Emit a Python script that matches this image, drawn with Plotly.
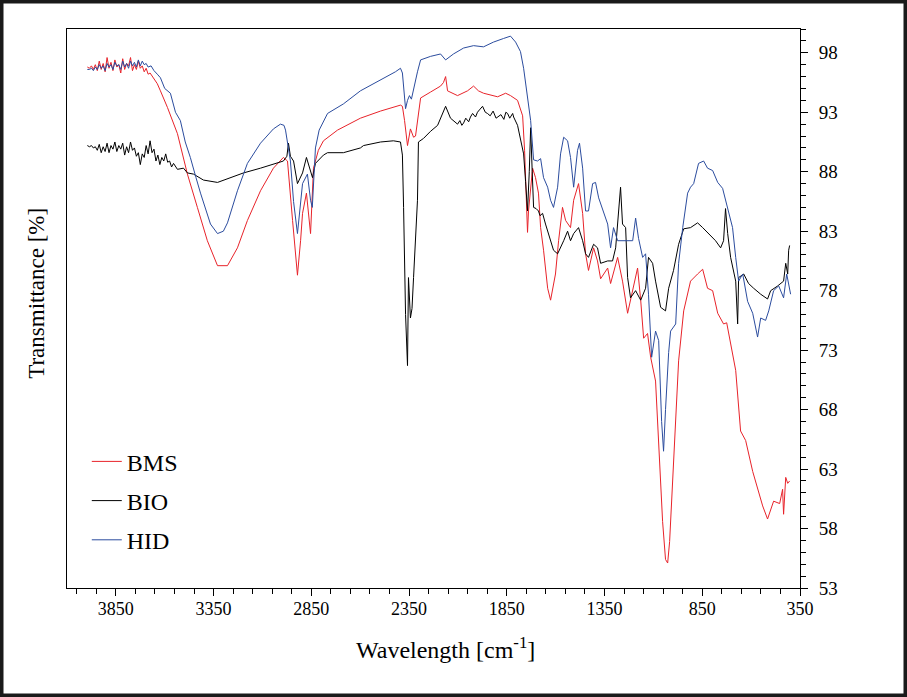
import plotly.graph_objects as go

# ---------------- data ----------------
bms_wn = [3996, 3985, 3975, 3965, 3955, 3945, 3935, 3925, 3915, 3905, 3895, 3885, 3875, 3865, 3855,
          3845, 3835, 3825, 3815, 3805, 3795, 3785, 3775, 3765, 3755, 3745, 3735, 3725, 3715, 3705,
          3695, 3685, 3675, 3660, 3638, 3622, 3586, 3535, 3484, 3433, 3382, 3330, 3279, 3228, 3177,
          3110, 3044, 2993, 2972, 2946, 2921, 2905, 2895, 2875, 2865, 2854, 2839, 2814, 2788, 2716,
          2599, 2496, 2394, 2384, 2373, 2358, 2343, 2327, 2317, 2291, 2240, 2189, 2174, 2163, 2153,
          2102, 2051, 2020, 1995, 1969, 1897, 1856, 1831, 1795, 1769, 1759, 1744, 1739, 1718, 1703,
          1688, 1677, 1662, 1641, 1626, 1601, 1585, 1565, 1549, 1524, 1508, 1483, 1462, 1447, 1432,
          1406, 1386, 1370, 1334, 1319, 1283, 1258, 1232, 1206, 1181, 1165, 1150, 1130, 1114, 1089,
          1073, 1053, 1038, 1027, 1017, 1002, 986, 971, 945, 925, 910, 874, 848, 823, 797,
          771, 741, 725, 705, 679, 654, 628, 592, 562, 541, 516, 485, 454, 439, 434,
          423, 413, 403]
bms_t = [96.8, 96.7, 96.9, 96.6, 97.0, 96.5, 97.3, 96.6, 97.1, 96.4, 97.6, 96.7, 97.2, 96.5, 97.4,
         96.8, 97.0, 96.3, 97.5, 96.6, 97.1, 96.9, 97.6, 96.5, 97.0, 96.6, 97.3, 96.7, 96.9, 96.4,
         96.7, 96.2, 96.3, 95.9, 95.4, 94.8, 93.4, 91.2, 87.8, 85.0, 82.2, 80.1, 80.1, 81.6, 83.9,
         86.4, 88.3, 89.2, 88.9, 83.9, 79.3, 82.2, 84.5, 86.2, 84.7, 82.8, 88.3, 89.8, 90.6, 91.5,
         92.5, 93.1, 93.6, 93.5, 92.3, 90.2, 91.6, 90.9, 91.0, 94.2, 94.7, 95.2, 95.5, 96.0, 94.8,
         94.4, 94.8, 95.2, 94.8, 94.6, 94.3, 94.6, 94.4, 94.0, 92.7, 89.8, 82.9, 84.7, 88.3, 87.5,
         86.2, 83.3, 81.4, 78.2, 77.2, 79.4, 82.2, 85.0, 83.9, 83.3, 85.6, 87.0, 84.5, 81.1, 79.7,
         81.6, 80.5, 79.0, 79.9, 78.6, 80.8, 78.8, 76.1, 78.0, 79.9, 77.2, 74.0, 74.4, 72.4, 70.4,
         65.4, 58.6, 55.4, 55.1, 56.9, 62.0, 67.0, 72.1, 76.3, 77.7, 78.8, 79.4, 79.8, 78.2, 78.0,
         76.1, 75.2, 75.3, 73.4, 71.3, 66.2, 65.4, 62.8, 61.2, 59.9, 58.8, 60.3, 60.1, 61.3, 59.2,
         62.3, 61.8, 62.0]

bio_wn = [3996, 3985, 3975, 3965, 3955, 3945, 3935, 3925, 3915, 3905, 3895, 3885, 3875, 3865, 3855,
          3845, 3835, 3825, 3815, 3805, 3795, 3785, 3775, 3765, 3755, 3745, 3735, 3725, 3715, 3705,
          3695, 3685, 3675, 3665, 3655, 3645, 3635, 3625, 3615, 3605, 3595, 3585, 3575, 3565, 3555,
          3535, 3504, 3484, 3453, 3402, 3330, 3279, 3197, 3110, 3023, 2993, 2975, 2967, 2957, 2941,
          2921, 2905, 2895, 2875, 2854, 2844, 2829, 2788, 2767, 2686, 2599, 2583, 2496, 2430, 2394,
          2384, 2378, 2368, 2358, 2353, 2343, 2335, 2327, 2317, 2307, 2302, 2276, 2240, 2204, 2163,
          2138, 2102, 2090, 2080, 2071, 2060, 2045, 2036, 2025, 2010, 2000, 1990, 1974, 1960, 1949,
          1935, 1920, 1905, 1897, 1880, 1865, 1855, 1846, 1835, 1820, 1815, 1795, 1790, 1764, 1754,
          1744, 1735, 1728, 1720, 1713, 1700, 1688, 1680, 1667, 1652, 1636, 1611, 1590, 1575, 1559,
          1539, 1524, 1508, 1483, 1462, 1447, 1432, 1406, 1386, 1370, 1334, 1309, 1293, 1278, 1268,
          1258, 1242, 1232, 1217, 1191, 1165, 1140, 1125, 1104, 1089, 1063, 1038, 1022, 997, 971,
          945, 910, 874, 848, 817, 782, 756, 741, 731, 720, 705, 679, 669, 664, 638,
          613, 587, 551, 516, 500, 464, 449, 434, 423, 413, 408, 403]
bio_t = [90.2, 90.1, 90.2, 90.0, 90.1, 89.8, 90.3, 89.6, 90.1, 89.7, 90.4, 89.6, 90.2, 89.9, 90.5,
         89.7, 90.2, 89.9, 90.4, 89.4, 90.1, 89.6, 90.5, 89.8, 90.0, 89.3, 89.6, 88.6, 89.5, 89.2,
         90.2, 89.5, 90.6, 89.6, 89.9, 88.9, 89.4, 88.6, 89.2, 88.9, 89.5, 88.8, 88.9, 88.4, 88.7,
         88.2, 88.3, 87.9, 87.8, 87.3, 87.1, 87.4, 87.9, 88.3, 88.7, 88.9, 89.3, 90.4, 89.3, 88.9,
         87.0, 87.5, 87.9, 89.2, 87.9, 87.5, 88.7, 89.4, 89.6, 89.6, 90.0, 90.2, 90.5, 90.6, 90.5,
         89.4, 85.0, 76.0, 71.7, 79.1, 75.7, 76.5, 79.1, 82.2, 85.6, 90.5, 90.8, 91.4, 91.9, 93.5,
         92.5, 92.0, 92.3, 91.9, 92.1, 92.5, 92.2, 92.6, 92.9, 92.6, 93.0, 93.2, 93.5, 93.0, 92.9,
         92.7, 93.1, 92.5, 92.6, 92.8, 92.4, 93.0, 92.9, 92.5, 92.9, 92.6, 91.9, 91.5, 89.5, 87.2,
         84.7, 88.0, 91.7, 88.0, 85.0, 84.9, 84.7, 84.3, 84.5, 83.6, 82.8, 81.4, 81.1, 81.6, 82.2,
         83.0, 82.2, 82.8, 83.3, 82.2, 81.1, 80.8, 81.9, 81.6, 80.3, 80.5, 80.5, 81.6, 84.7, 86.7,
         83.6, 83.3, 79.1, 77.4, 78.0, 77.2, 78.2, 80.8, 80.3, 78.8, 76.6, 76.3, 78.2, 79.7, 81.9,
         83.2, 83.3, 83.7, 83.3, 82.8, 82.2, 81.6, 82.2, 84.9, 82.8, 80.8, 78.8, 75.2, 79.1, 79.4,
         78.6, 78.2, 77.7, 77.3, 78.0, 78.4, 78.6, 78.8, 80.3, 79.4, 81.4, 81.8]

hid_wn = [3996, 3985, 3975, 3965, 3955, 3945, 3935, 3925, 3915, 3905, 3895, 3885, 3875, 3865, 3855,
          3845, 3835, 3825, 3815, 3805, 3795, 3785, 3775, 3765, 3755, 3745, 3735, 3725, 3715, 3705,
          3695, 3685, 3670, 3655, 3638, 3622, 3600, 3571, 3545, 3520, 3495, 3469, 3440, 3417, 3366,
          3330, 3300, 3279, 3228, 3177, 3110, 3044, 3008, 2990, 2982, 2957, 2941, 2921, 2895, 2870,
          2854, 2845, 2829, 2810, 2767, 2686, 2599, 2496, 2420, 2394, 2384, 2368, 2358, 2348, 2338,
          2307, 2291, 2240, 2189, 2163, 2123, 2071, 2020, 1969, 1918, 1867, 1831, 1805, 1780, 1764,
          1744, 1728, 1713, 1693, 1677, 1662, 1641, 1626, 1611, 1590, 1575, 1559, 1539, 1524, 1508,
          1488, 1478, 1462, 1447, 1432, 1411, 1396, 1380, 1355, 1334, 1319, 1304, 1283, 1268, 1232,
          1206, 1191, 1176, 1155, 1140, 1125, 1109, 1089, 1073, 1058, 1048, 1038, 1022, 1012, 986,
          971, 950, 925, 910, 894, 869, 843, 823, 797, 771, 746, 720, 695, 679, 664,
          643, 618, 592, 567, 551, 526, 510, 485, 459, 434, 418, 408, 398]
hid_t = [96.6, 96.6, 96.7, 96.5, 96.8, 96.6, 97.0, 96.7, 96.9, 96.5, 97.1, 96.8, 97.0, 96.6, 97.2,
         96.9, 97.0, 96.6, 97.3, 96.8, 97.1, 96.7, 97.3, 96.9, 97.2, 96.8, 97.4, 96.9, 97.3, 97.0,
         97.1, 96.8, 96.9, 96.5, 96.2, 95.9, 95.0, 94.6, 93.0, 92.3, 90.5, 89.2, 87.5, 86.2, 83.6,
         82.8, 83.0, 83.7, 86.4, 88.7, 90.4, 91.6, 92.0, 91.9, 91.5, 88.9, 85.5, 82.8, 87.0, 87.8,
         85.6, 85.0, 90.0, 91.5, 92.9, 93.7, 94.8, 95.7, 96.4, 96.7, 96.3, 93.3, 94.0, 94.4, 94.1,
         96.4, 97.4, 97.7, 97.9, 97.4, 97.9, 98.4, 98.6, 98.5, 98.9, 99.2, 99.4, 98.9, 98.1, 96.7,
         94.4, 92.3, 89.0, 88.9, 89.1, 87.5, 86.7, 85.6, 85.0, 86.7, 89.5, 90.9, 90.6, 89.2, 86.7,
         89.8, 90.4, 88.3, 84.7, 84.7, 87.0, 87.1, 85.8, 84.7, 83.6, 81.6, 83.3, 82.2, 82.2, 82.2,
         82.2, 84.1, 82.4, 80.8, 81.1, 77.7, 72.4, 74.6, 73.8, 67.0, 64.5, 68.0, 72.8, 74.6, 75.2,
         80.3, 83.3, 86.2, 86.7, 87.0, 88.7, 88.9, 88.3, 88.1, 87.1, 86.6, 85.0, 83.3, 80.8, 78.8,
         79.4, 77.1, 76.1, 74.1, 75.7, 75.5, 76.3, 78.0, 78.4, 77.4, 79.4, 78.4, 77.7]

series_names = ["BMS", "BIO", "HID"]
series_colors = ["#e8232a", "#000000", "#2b4c9e"]

x_major = [3850, 3350, 2850, 2350, 1850, 1350, 850, 350]
y_major = [53, 58, 63, 68, 73, 78, 83, 88, 93, 98]

FONT = "Liberation Serif"

# ---------------- figure ----------------
fig = go.Figure()
for name, wn, t, col in zip(series_names, [bms_wn, bio_wn, hid_wn], [bms_t, bio_t, hid_t], series_colors):
    fig.add_trace(go.Scatter(x=wn, y=t, mode="lines", name=name, legendgroup=name,
                             line=dict(color=col, width=1)))

fig.update_layout(
    width=907, height=697,
    margin=dict(l=67, r=107, t=29, b=109),
    paper_bgcolor="white", plot_bgcolor="white",
    font=dict(family=FONT, color="black", size=18),
    showlegend=True,
    legend=dict(x=0.027, y=0.266, xanchor="left", yanchor="top",
                font=dict(family=FONT, size=24, color="black"),
                bgcolor="rgba(0,0,0,0)", itemwidth=30, tracegroupgap=5,
                traceorder="grouped"),
    xaxis=dict(range=[4100, 350], tickmode="array", tickvals=x_major,
               ticktext=[str(v) for v in x_major],
               ticks="outside", ticklen=7, tickwidth=1, tickcolor="black",
               ticklabelstandoff=-3,
               minor=dict(tick0=350, dtick=100, ticks="outside", ticklen=5, tickcolor="black"),
               showline=True, linecolor="black", linewidth=1, mirror=True,
               showgrid=False, zeroline=False,
               tickfont=dict(family=FONT, size=18, color="black")),
    yaxis=dict(range=[53, 100], side="right", tickmode="array", tickvals=y_major,
               ticktext=[str(v) for v in y_major],
               ticks="outside", ticklen=7, tickwidth=1, tickcolor="black",
               ticklabelstandoff=7,
               minor=dict(tick0=53, dtick=1, ticks="outside", ticklen=5, tickcolor="black"),
               showline=True, linecolor="black", linewidth=1, mirror=True,
               showgrid=False, zeroline=False,
               tickfont=dict(family=FONT, size=19, color="black")),
)

fig.add_annotation(text="Wavelength [cm<sup>-1</sup>]", xref="paper", yref="paper",
                   x=0.517, y=-0.108, showarrow=False,
                   xanchor="center", yanchor="middle",
                   font=dict(family=FONT, size=24, color="black"))

fig.add_annotation(text="Transmittance [%]", xref="paper", yref="paper",
                   x=-0.041, y=0.528, textangle=-90, showarrow=False,
                   xanchor="center", yanchor="middle",
                   font=dict(family=FONT, size=23, color="black"))

# outer frame of the picture
fig.add_shape(type="rect", xref="paper", yref="paper",
              x0=-67 / 733, x1=(907 - 67) / 733, y0=-109 / 559, y1=588 / 559,
              line=dict(color="#1a1a1a", width=7), layer="above")

fig.write_html("out.html")
